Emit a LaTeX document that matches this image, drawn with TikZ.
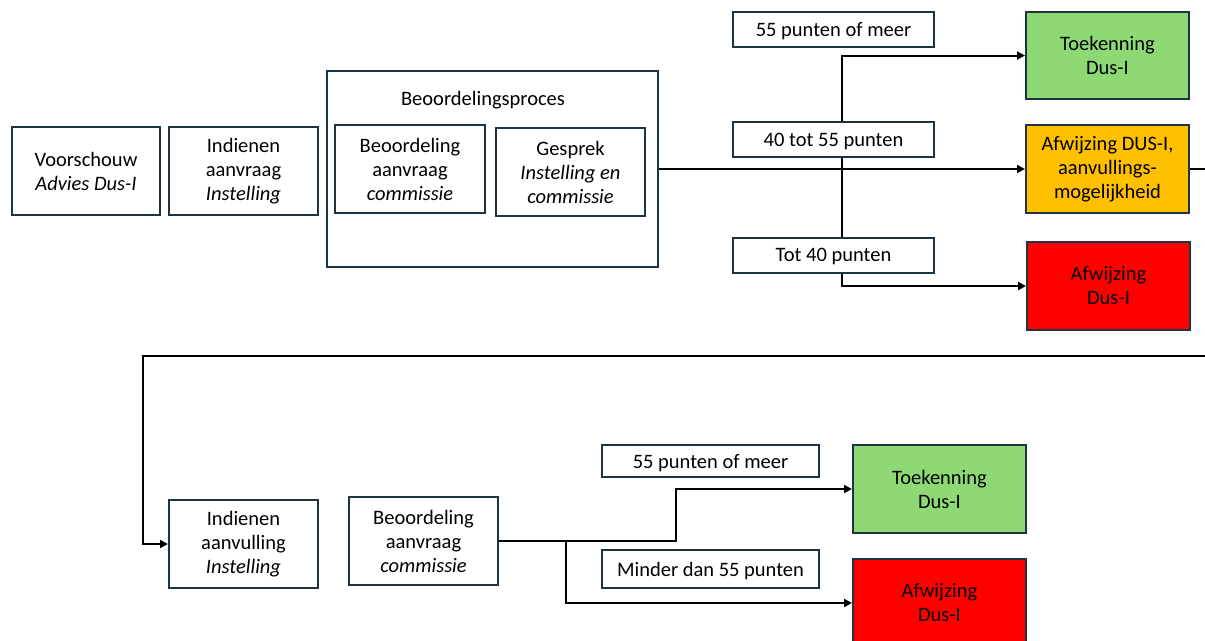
\documentclass[tikz,border=0pt]{standalone}
\usepackage{fontspec}
\setmainfont{Carlito}
\usetikzlibrary{arrows.meta,backgrounds}
\definecolor{rand}{HTML}{1F3442}
\definecolor{groen}{HTML}{8ED973}
\definecolor{oranje}{HTML}{FFC000}
\definecolor{rood}{HTML}{FF0000}
\begin{document}
\begin{tikzpicture}[x=1pt,y=-1pt,
  stap/.style={draw=rand,line width=2pt,fill=white,rectangle,align=center,inner sep=0pt,minimum width=149pt,minimum height=88pt},
  uitslag/.style={stap,minimum width=163pt},
  grens/.style={stap,minimum width=201pt,minimum height=35pt,text depth=0pt},
  pijl/.style={line width=2pt,-{Triangle[length=8pt,width=8pt]}},
  lijn/.style={line width=2pt},
  font=\fontsize{20.5}{24}\selectfont]
\useasboundingbox (0,0) rectangle (1205,640);
% eerste ronde
\node[stap,minimum width=148pt] (voorschouw) at (86,171) {Voorschouw\\\textit{Advies Dus-I}};
\node[stap] (aanvraag) at (243.5,171) {Indienen\\aanvraag\\\textit{Instelling}};
\node[stap,minimum width=331pt,minimum height=196pt] (proces) at (492.5,169) {};
\node (procestitel) at (483,100) {Beoordelingsproces};
\node[stap,minimum width=150pt] (beoordeling) at (410,169) {Beoordeling\\aanvraag\\\textit{commissie}};
\node[stap] (gesprek) at (570.5,172) {Gesprek\\\textit{Instelling en}\\\textit{commissie}};
\node[grens] (meer) at (833.5,29.5) {55 punten of meer};
\node[grens] (midden) at (833.5,139.5) {40 tot 55 punten};
\node[grens] (minder) at (833.5,255) {Tot 40 punten};
\node[uitslag,fill=groen,minimum height=87pt] (toekenning) at (1107.5,55.5) {Toekenning\\Dus-I};
\node[uitslag,fill=oranje] (aanvulmogelijk) at (1107.5,169) {Afwijzing DUS-I,\\aanvullings-\\mogelijkheid};
\node[uitslag,fill=rood] (afwijzing) at (1108.5,286) {Afwijzing\\Dus-I};
% tweede ronde
\node[stap] (aanvulling) at (243.5,544) {Indienen\\aanvulling\\\textit{Instelling}};
\node[stap] (beoordeling2) at (423.5,541) {Beoordeling\\aanvraag\\\textit{commissie}};
\node[grens,minimum width=217pt,minimum height=32pt] (meer2) at (710.5,461) {55 punten of meer};
\node[grens,minimum width=217pt,minimum height=38pt] (minder2) at (710.5,569) {Minder dan 55 punten};
\node[uitslag,fill=groen,minimum width=173pt] (toekenning2) at (939.5,489) {Toekenning\\Dus-I};
\node[uitslag,fill=rood,minimum width=173pt] (afwijzing2) at (939.5,603) {Afwijzing\\Dus-I};
\coordinate (splitsing) at (842,169);
\coordinate (lusrechts) at (1220,356);
\coordinate (luslinks) at (143,356);
\coordinate (splitsing2) at (566,541);
\coordinate (trede) at (676,541);
\begin{pgfonlayer}{background}
\draw[pijl] (proces.east) -- (aanvulmogelijk.west);
\draw[pijl] (splitsing) |- (toekenning.west);
\draw[pijl] (splitsing) |- (afwijzing.west);
\draw[pijl] (aanvulmogelijk.east) -| (lusrechts) -- (luslinks) |- (aanvulling.west);
\draw[lijn] (beoordeling2.east) -- (splitsing2);
\draw[pijl] (splitsing2) -- (trede) |- (toekenning2.west);
\draw[pijl] (splitsing2) |- (afwijzing2.west);
\end{pgfonlayer}
\end{tikzpicture}
\end{document}
